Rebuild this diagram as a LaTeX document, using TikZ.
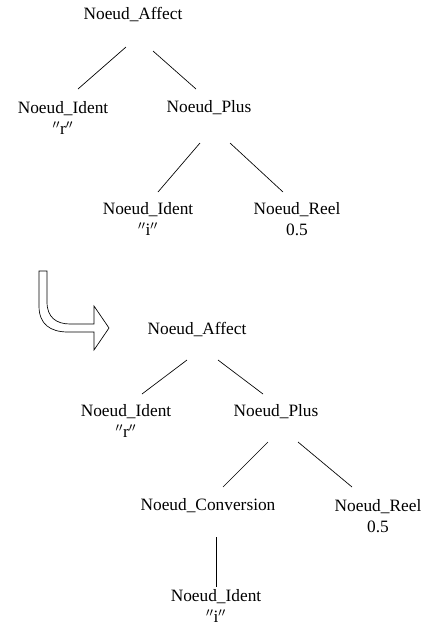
\documentclass[tikz,border=0pt]{standalone}
\usepackage{fontspec}
\setmainfont{Liberation Serif}
\begin{document}
\begin{tikzpicture}[x=0.75pt,y=-0.75pt,
    noeud/.style={font=\fontsize{13}{15.5}\selectfont,align=center,inner sep=0pt},
    lien/.style={line width=0.5pt}]
  \useasboundingbox (0,0) rectangle (437,625);

  % premier arbre
  \node[noeud] (affA) at (133,15) {Noeud\_Affect};
  \node[noeud] (idrA) at (63,118) {Noeud\_Ident\\$''$r$''$};
  \node[noeud] (plusA) at (209,108) {Noeud\_Plus};
  \node[noeud] (idiA) at (148,219) {Noeud\_Ident\\$''$i$''$};
  \node[noeud] (reelA) at (297,219) {Noeud\_Reel\\0.5};

  \coordinate (affA-g) at (126,47);  \coordinate (idrA-h) at (78,89);
  \coordinate (affA-d) at (153,51);  \coordinate (plusA-h) at (196,89);
  \coordinate (plusA-g) at (200,143); \coordinate (idiA-h) at (158,192);
  \coordinate (plusA-d) at (230,143); \coordinate (reelA-h) at (283,192);
  \draw[lien] (affA-g) -- (idrA-h);
  \draw[lien] (affA-d) -- (plusA-h);
  \draw[lien] (plusA-g) -- (idiA-h);
  \draw[lien] (plusA-d) -- (reelA-h);

  % fleche de transformation
  \draw[lien] (39,271) -- (39,306) .. controls (39,324) and (50,332) .. (68,332)
    -- (94,332) -- (94,350) -- (109,328) -- (94,306) -- (94,324) -- (70,324)
    .. controls (56,324) and (47,317) .. (47,302) -- (47,271) -- cycle;

  % second arbre
  \node[noeud] (affB) at (197,330) {Noeud\_Affect};
  \node[noeud] (idrB) at (126,421) {Noeud\_Ident\\$''$r$''$};
  \node[noeud] (plusB) at (276,412) {Noeud\_Plus};
  \node[noeud] (convB) at (208,506) {Noeud\_Conversion};
  \node[noeud] (reelB) at (378,516) {Noeud\_Reel\\0.5\hspace{9pt}};
  \node[noeud] (idiB) at (216,606) {Noeud\_Ident\\$''$i$''$};

  \coordinate (affB-g) at (187,360);  \coordinate (idrB-h) at (142,394);
  \coordinate (affB-d) at (218,360);  \coordinate (plusB-h) at (263,394);
  \coordinate (plusB-g) at (268,442); \coordinate (convB-h) at (223,487);
  \coordinate (plusB-d) at (298,442); \coordinate (reelB-h) at (352,487);
  \coordinate (convB-b) at (216,537); \coordinate (idiB-h) at (216,587);
  \draw[lien] (affB-g) -- (idrB-h);
  \draw[lien] (affB-d) -- (plusB-h);
  \draw[lien] (plusB-g) -- (convB-h);
  \draw[lien] (plusB-d) -- (reelB-h);
  \draw[lien] (convB-b) -- (idiB-h);
\end{tikzpicture}
\end{document}
